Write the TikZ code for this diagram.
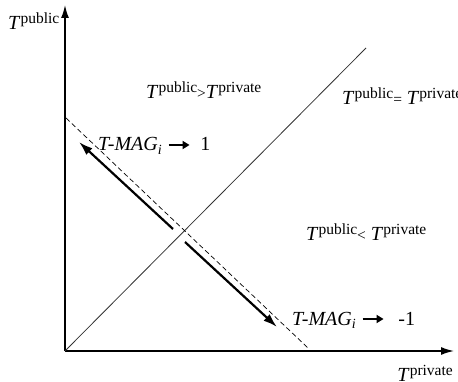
\documentclass[tikz,border=0pt]{standalone}
\usepackage{fontspec}
\setmainfont{Liberation Serif}
\usetikzlibrary{arrows.meta}
\newcommand{\supf}{\fontsize{15.5}{16}\selectfont}
\newcommand{\Tv}[1]{\textit{T}\raisebox{6pt}{\supf #1}}
\newcommand{\rel}[1]{{\supf #1}}
\newcommand{\tmagi}{\textit{T-MAG}\raisebox{-3.5pt}{\fontsize{14}{14}\selectfont\itshape i}}
\newcommand{\rarr}{\tikz[baseline=-6pt]\draw[line width=1.7pt,-{Triangle[length=7pt,width=8pt]}] (0,0)--(21pt,0);}
\begin{document}
\begin{tikzpicture}[x=1pt,y=-1pt,
  axis/.style={line width=1.6pt,-{Latex[length=13pt,width=8pt]}},
  diag/.style={line width=0.8pt,black!80},
  dashline/.style={line width=0.7pt,dash pattern=on 5pt off 3pt},
  move/.style={line width=2.2pt,-{Latex[length=14pt,width=9pt]}},
  lab/.style={font=\fontsize{20}{24}\selectfont,inner sep=0pt,anchor=base west}]
\useasboundingbox (0,0) rectangle (458,382);
\coordinate (O) at (65,351);
\coordinate (Ytop) at (65,5);
\coordinate (Xend) at (454,351);
\coordinate (Dend) at (366,48);
\coordinate (D1) at (66,118);
\coordinate (D2) at (308,348);
\coordinate (A1s) at (173,229);
\coordinate (A1e) at (79,142);
\coordinate (A2s) at (185,242);
\coordinate (A2e) at (277,327);
\draw[axis] (O) -- (Ytop);
\draw[axis] (O) -- (Xend);
\draw[diag] (O) -- (Dend);
\draw[dashline] (D1) -- (D2);
\draw[move] (A1s) -- (A1e);
\draw[move] (A2s) -- (A2e);
\node[lab] (ylab) at (8,30) {\Tv{public}};
\node[lab,anchor=base east] (xlab) at (453,381) {\Tv{private}};
\node[lab] (gt) at (146,99) {\Tv{public}\rel{>}\Tv{private}};
\node[lab] (eq) at (342,105) {\Tv{public}\rel{=} \Tv{private}};
\node[lab] (lt) at (306,241) {\Tv{public}\rel{<} \Tv{private}};
\node[lab] (m1) at (98,151) {\tmagi\hspace{6pt}\rarr\hspace{10pt}1};
\node[lab] (m2) at (292,325) {\tmagi\hspace{6pt}\rarr\hspace{14pt}-1};
\end{tikzpicture}
\end{document}
